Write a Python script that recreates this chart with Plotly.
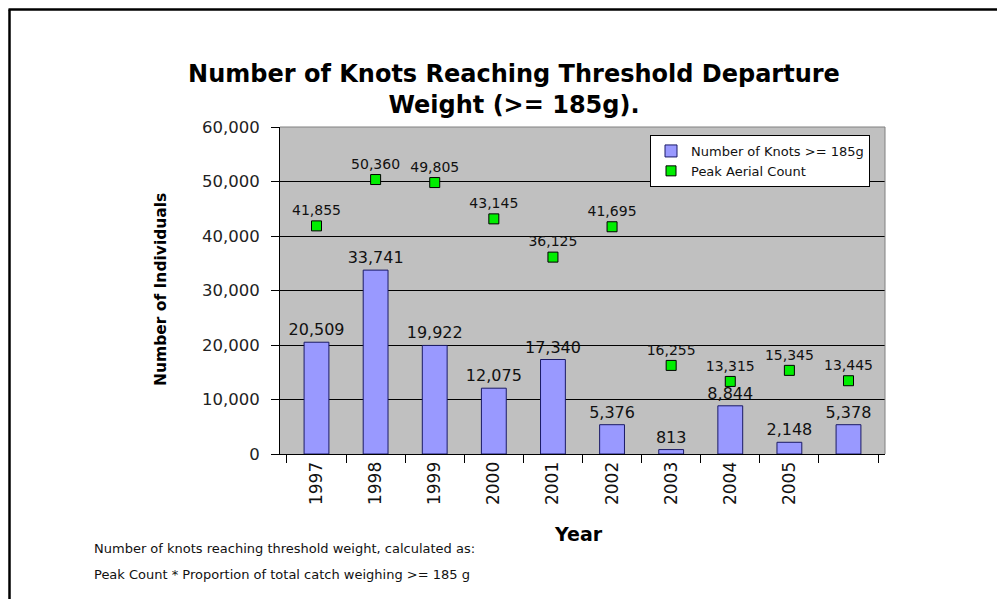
import plotly.graph_objects as go

# ---- data ----
years = ["1997", "1998", "1999", "2000", "2001", "2002", "2003", "2004", "2005", " "]
knots_185 = [20509, 33741, 19922, 12075, 17340, 5376, 813, 8844, 2148, 5378]
peak_aerial = [41855, 50360, 49805, 43145, 36125, 41695, 16255, 13315, 15345, 13445]
y_ticks = [0, 10000, 20000, 30000, 40000, 50000, 60000]

# page body has an 8px margin: work in screen pixels and convert
OFF = 8
W, H = 997, 591
L, R, T, B = 280 - OFF, 120, 127 - OFF, 145
PW, PH = W - L - R, H - T - B

def px_x(x):  # screen px -> paper
    return (x - OFF - L) / PW

def px_y(y):
    return (H - B - (y - OFF)) / PH

FONT = "DejaVu Sans"

fig = go.Figure()
fig.add_trace(go.Bar(
    x=years, y=knots_185, name="Number of Knots >= 185g",
    marker=dict(color="#9999FF", line=dict(color="#1a1a66", width=1)),
    width=0.42,
    text=[f"{v:,}" for v in knots_185], textposition="outside",
    constraintext="none", cliponaxis=False,
    textfont=dict(family=FONT, size=16, color="#111111"),
))
fig.add_trace(go.Scatter(
    x=years, y=peak_aerial, name="Peak Aerial Count", mode="markers+text",
    marker=dict(symbol="square", size=10, color="#00EE00", line=dict(color="#000000", width=1)),
    text=[f"{v:,}" for v in peak_aerial], textposition="top center",
    cliponaxis=False,
    textfont=dict(family=FONT, size=14, color="#111111"),
))

fig.update_layout(
    width=W, height=H,
    margin=dict(l=L, r=R, t=T, b=B, autoexpand=False),
    paper_bgcolor="white", plot_bgcolor="#C0C0C0",
    font=dict(family=FONT, color="#111111"),
    showlegend=True,
    title=dict(
        text="Number of Knots Reaching Threshold Departure<br>Weight (>= 185g).",
        x=(514 - OFF) / W, xref="container", xanchor="center",
        y=1 - 74 / H, yref="container", yanchor="top",
        font=dict(family=FONT, size=24, color="#000000", weight="bold"),
    ),
    legend=dict(
        x=px_x(650), y=px_y(135), xanchor="left", yanchor="top",
        bgcolor="white", bordercolor="black", borderwidth=1,
        font=dict(family=FONT, size=13, color="#111111"),
        itemwidth=30, tracegroupgap=0,
    ),
)

fig.update_xaxes(
    type="category", tickson="boundaries", ticks="outside", ticklen=8,
    tickcolor="black", showline=True, linecolor="black", linewidth=1,
    showgrid=False, tickangle=-90,
    tickfont=dict(family=FONT, size=17, color="#111111"),
)
fig.update_yaxes(
    range=[0, 60000], tickvals=y_ticks, tickformat=",",
    ticks="outside", ticklen=8, tickcolor="black",
    showline=True, linecolor="black", linewidth=1,
    showgrid=True, gridcolor="black", gridwidth=1, zeroline=False,
    ticklabelstandoff=8,
    tickfont=dict(family=FONT, size=16.5, color="#222222"),
)

# plot top/right edge
fig.add_shape(type="line", xref="paper", yref="paper", x0=0, x1=1, y0=1, y1=1,
              line=dict(color="#808080", width=1))
fig.add_shape(type="line", xref="paper", yref="paper", x0=1, x1=1, y0=0, y1=1,
              line=dict(color="#808080", width=1))
# outer frame (left and top)
fig.add_shape(type="line", xref="paper", yref="paper", x0=px_x(OFF + 1.5), x1=px_x(OFF + 1.5),
              y0=px_y(OFF + 1.5), y1=px_y(H + OFF + 5), line=dict(color="black", width=2.5))
fig.add_shape(type="line", xref="paper", yref="paper", x0=px_x(OFF + 0.5), x1=px_x(W + OFF + 5),
              y0=px_y(OFF + 1.5), y1=px_y(OFF + 1.5), line=dict(color="black", width=2.5))

# axis titles & footnote
fig.add_annotation(text="<b>Number of Individuals</b>", xref="paper", yref="paper",
                   x=px_x(161), y=px_y(290), textangle=-90, showarrow=False,
                   xanchor="center", yanchor="middle",
                   font=dict(family=FONT, size=15.5, color="#000000"))
fig.add_annotation(text="<b>Year</b>", xref="paper", yref="paper",
                   x=px_x(578), y=px_y(534), showarrow=False,
                   xanchor="center", yanchor="middle",
                   font=dict(family=FONT, size=19, color="#000000"))
fig.add_annotation(text="Number of knots reaching threshold weight, calculated as:",
                   xref="paper", yref="paper", x=px_x(92), y=px_y(548), showarrow=False,
                   xanchor="left", yanchor="middle",
                   font=dict(family=FONT, size=13, color="#111111"))
fig.add_annotation(text="Peak Count * Proportion of total catch weighing >= 185 g",
                   xref="paper", yref="paper", x=px_x(92), y=px_y(574), showarrow=False,
                   xanchor="left", yanchor="middle",
                   font=dict(family=FONT, size=13, color="#111111"))

fig.write_html("out.html")
